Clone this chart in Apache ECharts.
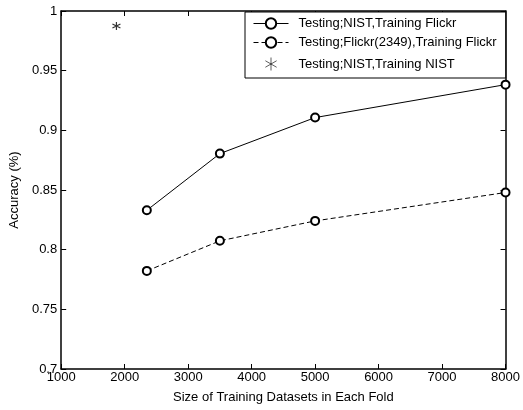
<!DOCTYPE html>
<html>
<head>
<meta charset="utf-8">
<script src="https://cdn.jsdelivr.net/npm/echarts@6/dist/echarts.min.js"></script>
<style>html,body{margin:0;padding:0;background:#fff}#c{width:523px;height:410px}</style>
</head>
<body>
<div id="c"></div>
<script>
const seriesNames = ['Testing;NIST,Training Flickr', 'Testing;Flickr(2349),Training Flickr', 'Testing;NIST,Training NIST'];
const sizes = [2349, 3500, 5000, 8000];
const accNistFlickr = [0.833, 0.8805, 0.9107, 0.9383];
const accFlickrFlickr = [0.7822, 0.8074, 0.8241, 0.8479];
const nistNistX = [1870];
const nistNistY = [0.9874];
const xTicks = [1000, 2000, 3000, 4000, 5000, 6000, 7000, 8000];
const yTicks = [0.7, 0.75, 0.8, 0.85, 0.9, 0.95, 1];

const font = 'Liberation Sans, Arial, sans-serif';
const chart = echarts.init(document.getElementById('c'));
const starPath = 'path://M0,-10L0,10M-8.66,-5L8.66,5M-8.66,5L8.66,-5';
const axisLine = {show: true, lineStyle: {color: '#000', width: 1.5}};
const tick = {show: true, inside: true, length: 5, lineStyle: {color: '#000', width: 1}};
function xAxis(pos, showLabel) {
  return {
    type: 'value', position: pos, min: xTicks[0], max: xTicks[xTicks.length - 1], interval: 1000,
    axisLine: axisLine, axisTick: tick, splitLine: {show: false},
    axisLabel: {show: showLabel, color: '#000', fontFamily: font, fontSize: 13, margin: 2,
      formatter: v => String(v)},
    name: showLabel ? 'Size of Training Datasets in Each Fold' : '', nameLocation: 'middle', nameGap: 22,
    nameTextStyle: {color: '#000', fontFamily: font, fontSize: 13}
  };
}
function yAxis(pos, showLabel) {
  return {
    type: 'value', position: pos, min: yTicks[0], max: yTicks[yTicks.length - 1], interval: 0.05,
    axisLine: axisLine, axisTick: tick, splitLine: {show: false},
    axisLabel: {show: showLabel, color: '#000', fontFamily: font, fontSize: 13, margin: 4,
      formatter: v => String(+v.toFixed(2))},
    name: showLabel ? 'Accuracy (%)' : '', nameLocation: 'middle', nameGap: 38,
    nameTextStyle: {color: '#000', fontFamily: font, fontSize: 13}
  };
}
chart.setOption({
  animation: false,
  backgroundColor: '#fff',
  grid: {left: 60, right: 13, top: 11, bottom: 41},
  xAxis: [xAxis('bottom', true), xAxis('top', false)],
  yAxis: [yAxis('left', true), yAxis('right', false)],
  legend: {
    orient: 'vertical', left: 245, top: 12, width: 265,
    backgroundColor: '#fff', borderColor: '#000', borderWidth: 1, borderRadius: 0,
    padding: [5, 9, 5, 8], itemGap: 6, itemWidth: 35, itemHeight: 13,
    lineStyle: {width: 1},
    itemStyle: {borderWidth: 0.8},
    textStyle: {color: '#000', fontFamily: font, fontSize: 13, padding: [0, 0, 0, 5]},
    data: seriesNames
  },
  series: [
    {
      name: seriesNames[0], type: 'line', data: sizes.map((x, i) => [x, accNistFlickr[i]]),
      symbol: 'emptyCircle', symbolSize: 8, showSymbol: true,
      lineStyle: {color: '#000', width: 1}, itemStyle: {color: '#000', borderColor: '#000', borderWidth: 0.9}
    },
    {
      name: seriesNames[1], type: 'line', data: sizes.map((x, i) => [x, accFlickrFlickr[i]]),
      symbol: 'emptyCircle', symbolSize: 8,
      lineStyle: {color: '#000', width: 1, type: [5, 3]}, itemStyle: {color: '#000', borderColor: '#000', borderWidth: 0.9}
    },
    {
      name: seriesNames[2], type: 'scatter', data: nistNistX.map((x, i) => [x, nistNistY[i]]),
      symbol: starPath, symbolSize: 8,
      itemStyle: {color: 'none', borderColor: '#000', borderWidth: 1.2}
    }
  ]
});
</script>
</body>
</html>
